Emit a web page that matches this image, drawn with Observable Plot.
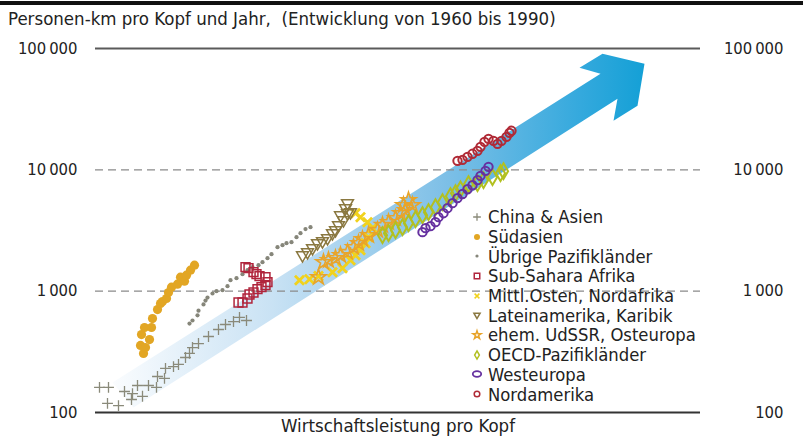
<!DOCTYPE html>
<html><head><meta charset="utf-8">
<script src="https://cdn.jsdelivr.net/npm/d3@7"></script>
<script src="https://cdn.jsdelivr.net/npm/@observablehq/plot@0.6"></script>
<style>
body{margin:0;background:#fff;font-family:"DejaVu Sans Condensed","DejaVu Sans",sans-serif;}
#wrap{position:relative;width:803px;height:438px;overflow:hidden;}
#topbar{position:absolute;left:0;top:1px;width:803px;height:4px;background:#111;}
#title{position:absolute;left:8px;top:8px;font-size:18.5px;color:#222;white-space:nowrap;}
#chart{position:absolute;left:0;top:38px;}
#legend{position:absolute;left:468px;top:207px;}
.li{height:19.7px;display:flex;align-items:center;font-size:18.3px;color:#222;white-space:nowrap;}
.li svg{width:18px;height:18px;margin-right:2px;flex:none;}
</style></head>
<body><div id="wrap">
<div id="topbar"></div>
<div id="title">Personen-km pro Kopf und Jahr,&nbsp; (Entwicklung von 1960 bis 1990)</div>
<div id="chart"></div>
<div id="legend"></div>
</div>
<script>
// ---------- data ----------
const seriesNames = ["China & Asien","Südasien","Übrige Pazifikländer","Sub-Sahara Afrika","Mittl.Osten, Nordafrika","Lateinamerika, Karibik","ehem. UdSSR, Osteuropa","OECD-Pazifikländer","Westeuropa","Nordamerika"];
const yTicks = [100, 1000, 10000, 100000];
const yTickLabels = ["100", "1\u2009000", "10\u2009000", "100\u2009000"];
const xLabel = "Wirtschaftsleistung pro Kopf";

// x: index of economic output per capita (no scale shown), y: passenger-km per capita and year
const chinaAsien = [[0.8,161],[2.6,161],[2.4,119],[4.6,114],[5.8,149],[7.4,143],[7.2,128],[8.4,167],[9.4,136],[10.6,167],[12.2,161],[12.4,198],[13.8,191],[14.0,231],[15.6,239],[16.6,249],[18.0,284],[18.8,307],[19.4,343],[20.6,370],[22.6,423],[24.6,483],[26.0,531],[27.6,562],[28.8,607],[30.2,573]];
const suedasien = [[9.6,307],[9.0,357],[10.0,343],[10.8,399],[9.2,439],[9.8,502],[11.2,502],[11.4,595],[12.4,705],[13.0,791],[13.4,822],[14.2,870],[14.6,975],[15.2,1079],[16.4,1142],[17.0,1304],[17.8,1209],[18.2,1355],[19.0,1490],[19.8,1638]];
const uebrigePazifik = [[18.8,541],[19.4,573],[20.4,632],[20.6,691],[21.6,777],[22.0,837],[22.4,886],[23.4,957],[24.2,1000],[25.4,1019],[26.4,1100],[27.0,1232],[28.2,1280],[29.4,1381],[30.4,1490],[31.4,1577],[32.6,1638],[33.4,1734],[34.4,1870],[35.2,2018],[36.4,2305],[37.4,2393],[38.2,2487],[39.2,2534],[40.2,2785],[41.0,3006],[42.0,3246],[43.0,3370]];
const subSahara = [[28.6,806],[29.4,806],[30.4,870],[30.8,939],[31.6,975],[32.4,1039],[33.2,1079],[34.0,1121],[34.4,1186],[34.0,1304],[32.8,1330],[32.2,1381],[31.6,1434],[30.6,1547],[30.0,1577]];
const mittlOsten = [[40.8,1232],[42.8,1256],[44.6,1330],[47.4,1434],[49.4,1547],[51.0,1800],[52.0,1980],[53.0,2178],[54.0,2487],[54.6,2785],[55.4,3307],[54.4,3704],[53.0,4073],[52.0,4392]];
const lateinamerika = [[41.4,1980],[42.4,2097],[43.4,2262],[44.4,2487],[45.4,2583],[46.4,2735],[47.4,3006],[48.0,3183],[48.6,3500],[49.6,3847],[49.0,4228],[50.4,4392],[50.0,4834],[50.4,5314],[51.0,4477]];
const udssr = [[44.6,1304],[45.6,1734],[46.6,1800],[48.0,1870],[49.0,1980],[50.4,2097],[51.6,2305],[52.6,2487],[53.4,2683],[54.6,2894],[56.4,3183],[57.4,3500],[58.6,3704],[60.0,3995],[61.0,4392],[61.6,5111],[62.6,5622],[63.4,5111],[62.0,4650]];
const oecdPazifik = [[57.4,2894],[58.6,3006],[60.0,3183],[61.4,3370],[62.6,3636],[64.0,3921],[65.4,4228],[66.6,4477],[68.0,4922],[69.4,5415],[71.0,6065],[72.0,6420],[73.0,6912],[74.6,7619],[76.4,7768],[77.6,8221],[79.4,8700],[81.0,9388],[81.6,9754]];
const westeuropa = [[65.4,3065],[66.0,3307],[67.0,3433],[68.0,3704],[68.6,4073],[69.6,4392],[70.4,4834],[71.4,5314],[72.4,5846],[73.4,6320],[74.4,6912],[75.4,7470],[76.4,8221],[77.0,8921],[78.0,9812],[78.6,10580]];
const nordamerika = [[72.4,11860],[73.4,12090],[74.4,12800],[75.4,13550],[76.4,14340],[77.0,15470],[77.8,17000],[78.6,18000],[79.6,17340],[80.4,16380],[81.2,17340],[82.2,18700],[82.8,20180],[83.2,20970]];

// trend arrow outline (same units as the data)
const arrowX = [3.4, 101.0, 96.8, 101.4, 109.8, 108.4, 103.6, 104.4, 7.6];
const arrowY = [177, 61900, 69300, 90400, 74700, 33700, 25340, 38470, 110];

// ---------- styles ----------
const allSeries = [chinaAsien, suedasien, uebrigePazifik, subSahara, mittlOsten, lateinamerika, udssr, oecdPazifik, westeuropa, nordamerika];
const styles = [
  {symbol:"plus", stroke:"#8a8a7a", r:3.6, strokeWidth:1.3},
  {symbol:"circle", fill:"#e2a624", r:4.6},
  {symbol:"circle", fill:"#86867a", r:2.1},
  {symbol:"square", stroke:"#b0253c", r:5, strokeWidth:1.5},
  {symbol:"times", stroke:"#f1d21c", r:4.2, strokeWidth:2.8},
  {symbol:"triangle", stroke:"#8a7840", r:4.4, strokeWidth:1.5, rotate:180},
  {symbol:"star", stroke:"#e8a42a", r:4.8, strokeWidth:1.6},
  {symbol:"diamond", stroke:"#b2c020", r:4.8, strokeWidth:2},
  {symbol:"circle", stroke:"#6631a0", r:4.2, strokeWidth:2},
  {symbol:"circle", stroke:"#b02a36", r:4.2, strokeWidth:2}
];

const arrowData = arrowX.map((x, i) => ({x, y: arrowY[i]}));
const FONT = "'DejaVu Sans Condensed', 'DejaVu Sans', sans-serif";

const plot = Plot.plot({
  width: 803, height: 400,
  marginLeft: 95, marginRight: 103, marginTop: 10, marginBottom: 26,
  x: {domain: [0, 121], axis: null},
  y: {type: "log", domain: [100, 100000], axis: null},
  style: {fontFamily: FONT, background: "transparent"},
  marks: [
    Plot.line(arrowData, {x: "x", y: "y", curve: "linear-closed", fill: "url(#arrowGrad)", stroke: "none"}),
    Plot.ruleY([yTicks[3]], {stroke: "#5a5a5a", strokeWidth: 1.8}),
    Plot.ruleY([yTicks[1], yTicks[2]], {stroke: "#8a8a8a", strokeWidth: 1.3, strokeDasharray: "8,5"}),
    Plot.ruleY([yTicks[0]], {stroke: "#333", strokeWidth: 2.2}),
    Plot.text(yTicks, {y: d => d, text: (d, i) => yTickLabels[i], frameAnchor: "left", textAnchor: "end", dx: -18, fontSize: 16.5, fill: "#222"}),
    Plot.text(yTicks, {y: d => d, text: (d, i) => yTickLabels[i], frameAnchor: "right", textAnchor: "end", dx: 83, fontSize: 16.5, fill: "#222"}),
    Plot.text([xLabel], {frameAnchor: "bottom", dy: 19, fontSize: 18.5, fill: "#222"}),
    ...allSeries.map((s, i) => Plot.dot(s, {x: d => d[0], y: d => d[1], fill: "none", ...styles[i]}))
  ]
});

const defs = d3.select(plot).insert("defs", ":first-child");
const g = defs.append("linearGradient").attr("id", "arrowGrad").attr("x1", 0).attr("x2", 1).attr("y1", 0).attr("y2", 0);
[[0, "#fafcfe"], [0.3, "#c9e2f4"], [0.62, "#7fc0e7"], [0.88, "#34a9dd"], [1, "#14a0d6"]]
  .forEach(([o, c]) => g.append("stop").attr("offset", o).attr("stop-color", c));

document.getElementById("chart").appendChild(plot);

// legend
const leg = d3.select("#legend");
const symMap = {plus: d3.symbolPlus, circle: d3.symbolCircle, square: d3.symbolSquare, times: d3.symbolTimes, triangle: d3.symbolTriangle, star: d3.symbolStar, diamond: d3.symbolDiamond};
const legendR = [2.6, 3.0, 1.6, 3.1, 2.3, 2.3, 2.6, 2.5, 3, 2.8];
seriesNames.forEach((name, i) => {
  const st = styles[i];
  const row = leg.append("div").attr("class", "li");
  const svg = row.append("svg").attr("viewBox", "-9 -9 18 18");
  if (i === 8) {
    svg.append("ellipse").attr("rx", 4.2).attr("ry", 2.8).attr("fill", "none").attr("stroke", st.stroke).attr("stroke-width", 1.8);
  } else {
    const rr = legendR[i];
    svg.append("path")
      .attr("d", d3.symbol(symMap[st.symbol], Math.PI * rr * rr)())
      .attr("transform", st.rotate ? `rotate(${st.rotate})` : null)
      .attr("fill", st.fill || "none").attr("stroke", st.stroke || "none").attr("stroke-width", st.strokeWidth ? Math.min(st.strokeWidth, 1.5) : null);
  }
  row.append("span").text(name);
});
</script>
</body></html>
